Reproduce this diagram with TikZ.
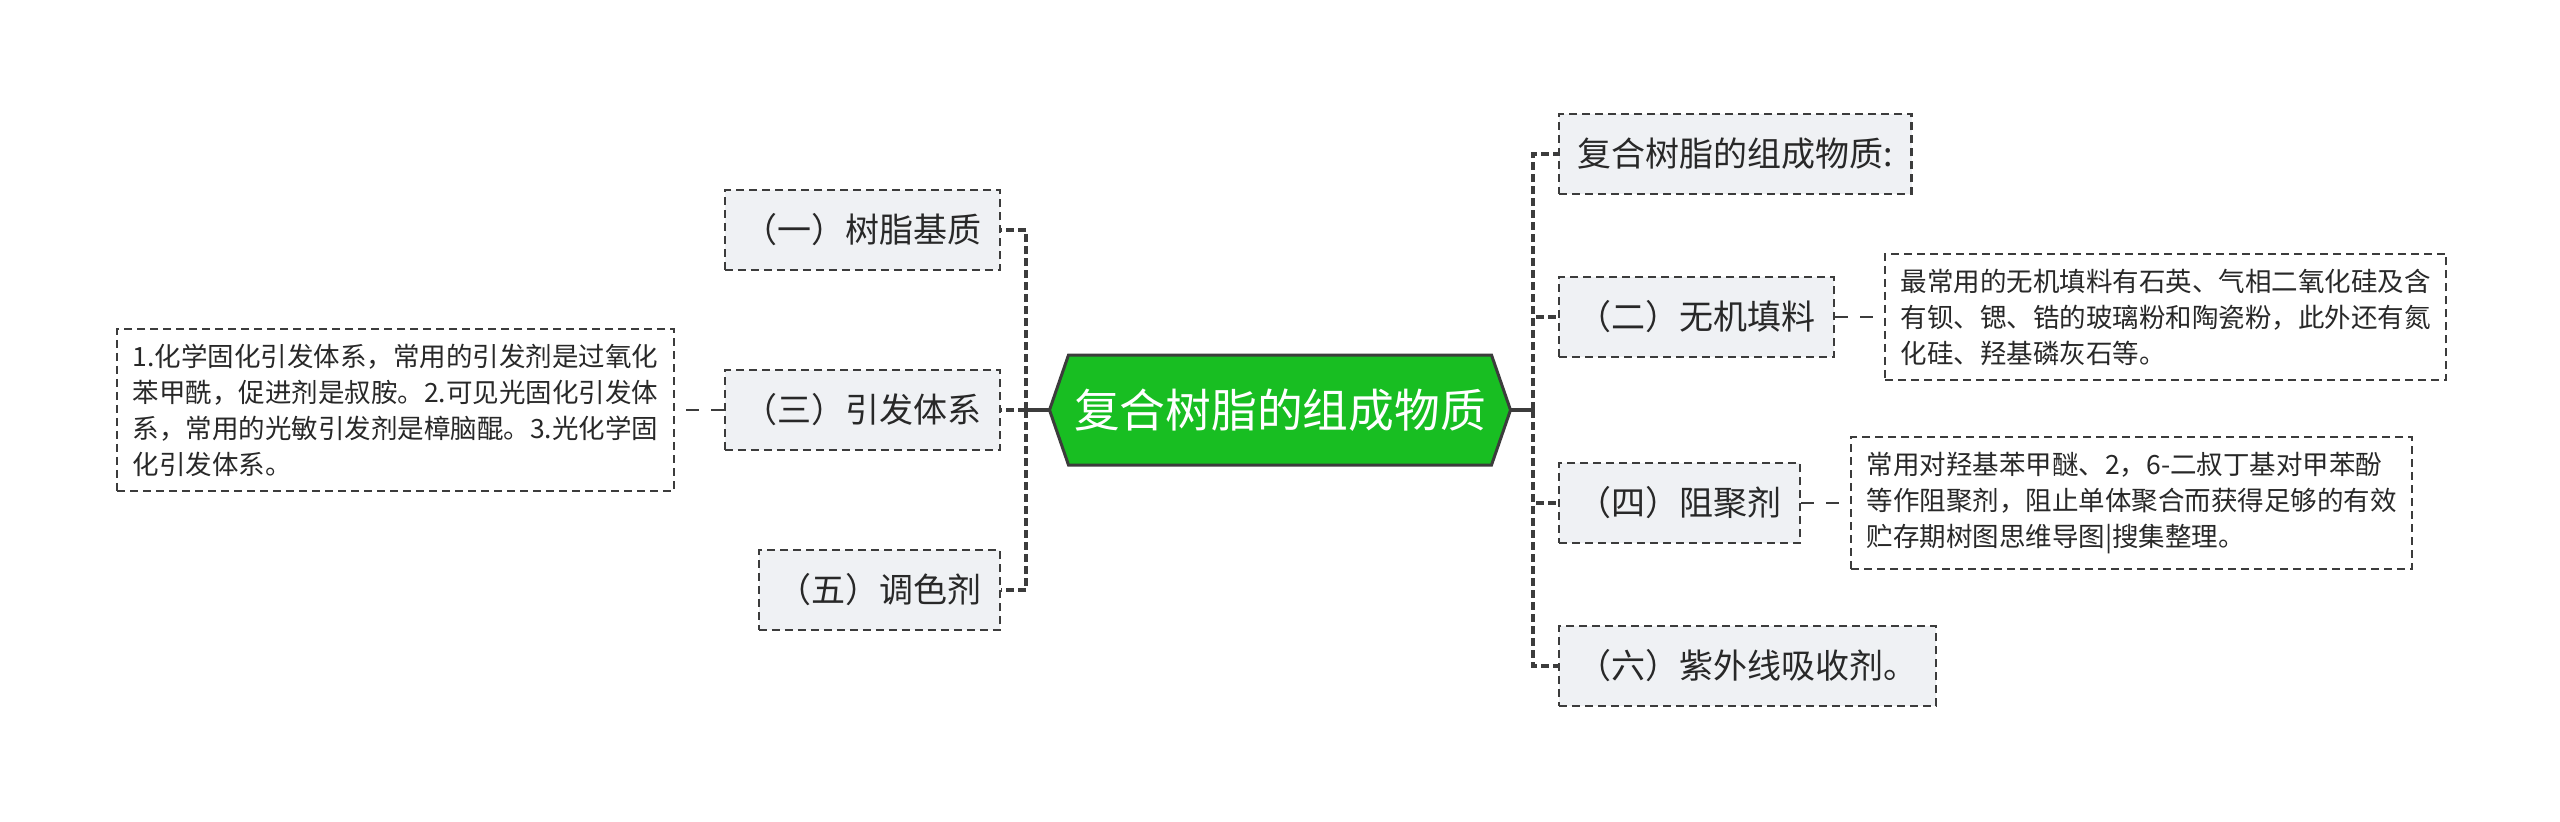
\documentclass[tikz,border=0pt]{standalone}
\usepackage{fontspec}
\setmainfont{Noto Sans CJK SC}
\usepackage{tikz}
\usetikzlibrary{positioning,backgrounds}
\definecolor{hubgreen}{RGB}{24,190,34}
\definecolor{edge}{RGB}{60,60,60}
\definecolor{boxfill}{RGB}{239,241,244}
\definecolor{ink}{RGB}{40,40,40}

\begin{document}
\begin{tikzpicture}[x=0.4pt,y=-0.4pt,node distance=19.6pt,
  hub/.style={minimum width=184pt,minimum height=43.6pt,inner sep=0pt,text=white,font=\fontsize{18.3pt}{22pt}\selectfont},
  hubline/.style={draw=edge,line width=1.2pt,fill=hubgreen,line join=miter},
  item/.style={draw=edge,line width=0.9pt,dash pattern=on 3.2pt off 2pt,fill=boxfill,text=ink,inner xsep=7.4pt,inner ysep=0pt,minimum height=32pt,font=\fontsize{13.6pt}{16pt}\selectfont},
  note/.style={draw=edge,line width=0.8pt,dash pattern=on 3.2pt off 2pt,fill=white,text=ink,align=left,inner xsep=6.2pt,inner ysep=6pt,font=\fontsize{10.6pt}{14.4pt}\selectfont},
  stem/.style={draw=edge,line width=1.4pt},
  link/.style={draw=edge,line width=1.6pt,dash pattern=on 3.2pt off 1.6pt},
  sidelink/.style={draw=edge,line width=0.8pt,dash pattern=on 5pt off 5pt}]
\useasboundingbox (0,0) rectangle (2560,821);

% centre
\node[hub] (hub) at (1280,410) {复合树脂的组成物质};
\begin{scope}[on background layer]
\draw[hubline] (hub.west) -- ([xshift=7.6pt]hub.north west) -- ([xshift=-7.6pt]hub.north east)
  -- (hub.east) -- ([xshift=-7.6pt]hub.south east) -- ([xshift=7.6pt]hub.south west) -- cycle;
\end{scope}

% left branch
\node[item,anchor=east] (s1) at (1001,230) {（一）树脂基质};
\node[item,anchor=east] (s3) at (1001,410) {（三）引发体系};
\node[item,anchor=east] (s5) at (1001,590) {（五）调色剂};
\node[note,left=of s3] (d3) {1.化学固化引发体系，常用的引发剂是过氧化\\苯甲酰，促进剂是叔胺。2.可见光固化引发体\\系，常用的光敏引发剂是樟脑醌。3.光化学固\\化引发体系。};

% right branch
\node[item,anchor=west] (s0) at (1558,154) {复合树脂的组成物质:};
\node[item,anchor=west] (s2) at (1558,317) {（二）无机填料};
\node[item,anchor=west] (s4) at (1558,503) {（四）阻聚剂};
\node[item,anchor=west] (s6) at (1558,666) {（六）紫外线吸收剂。};
\node[note,right=of s2] (d2) {最常用的无机填料有石英、气相二氧化硅及含\\有钡、锶、锆的玻璃粉和陶瓷粉，此外还有氮\\化硅、羟基磷灰石等。};
\node[note,right=of s4] (d4) {常用对羟基苯甲醚、2，6-二叔丁基对甲苯酚\\等作阻聚剂，阻止单体聚合而获得足够的有效\\贮存期树图思维导图|搜集整理。};

% connectors
\coordinate (lt) at (1026,410);
\coordinate (rt) at (1533,410);
\draw[stem] (hub.west) -- (lt);
\draw[stem] (hub.east) -- (rt);
\foreach \n in {s1,s3,s5} \draw[link] (lt) |- (\n.east);
\foreach \n in {s0,s2,s4,s6} \draw[link] (rt) |- (\n.west);
\draw[sidelink] (s3.west) -- (d3.east);
\draw[sidelink] (s2.east) -- (d2.west);
\draw[sidelink] (s4.east) -- (d4.west);
\end{tikzpicture}
\end{document}
